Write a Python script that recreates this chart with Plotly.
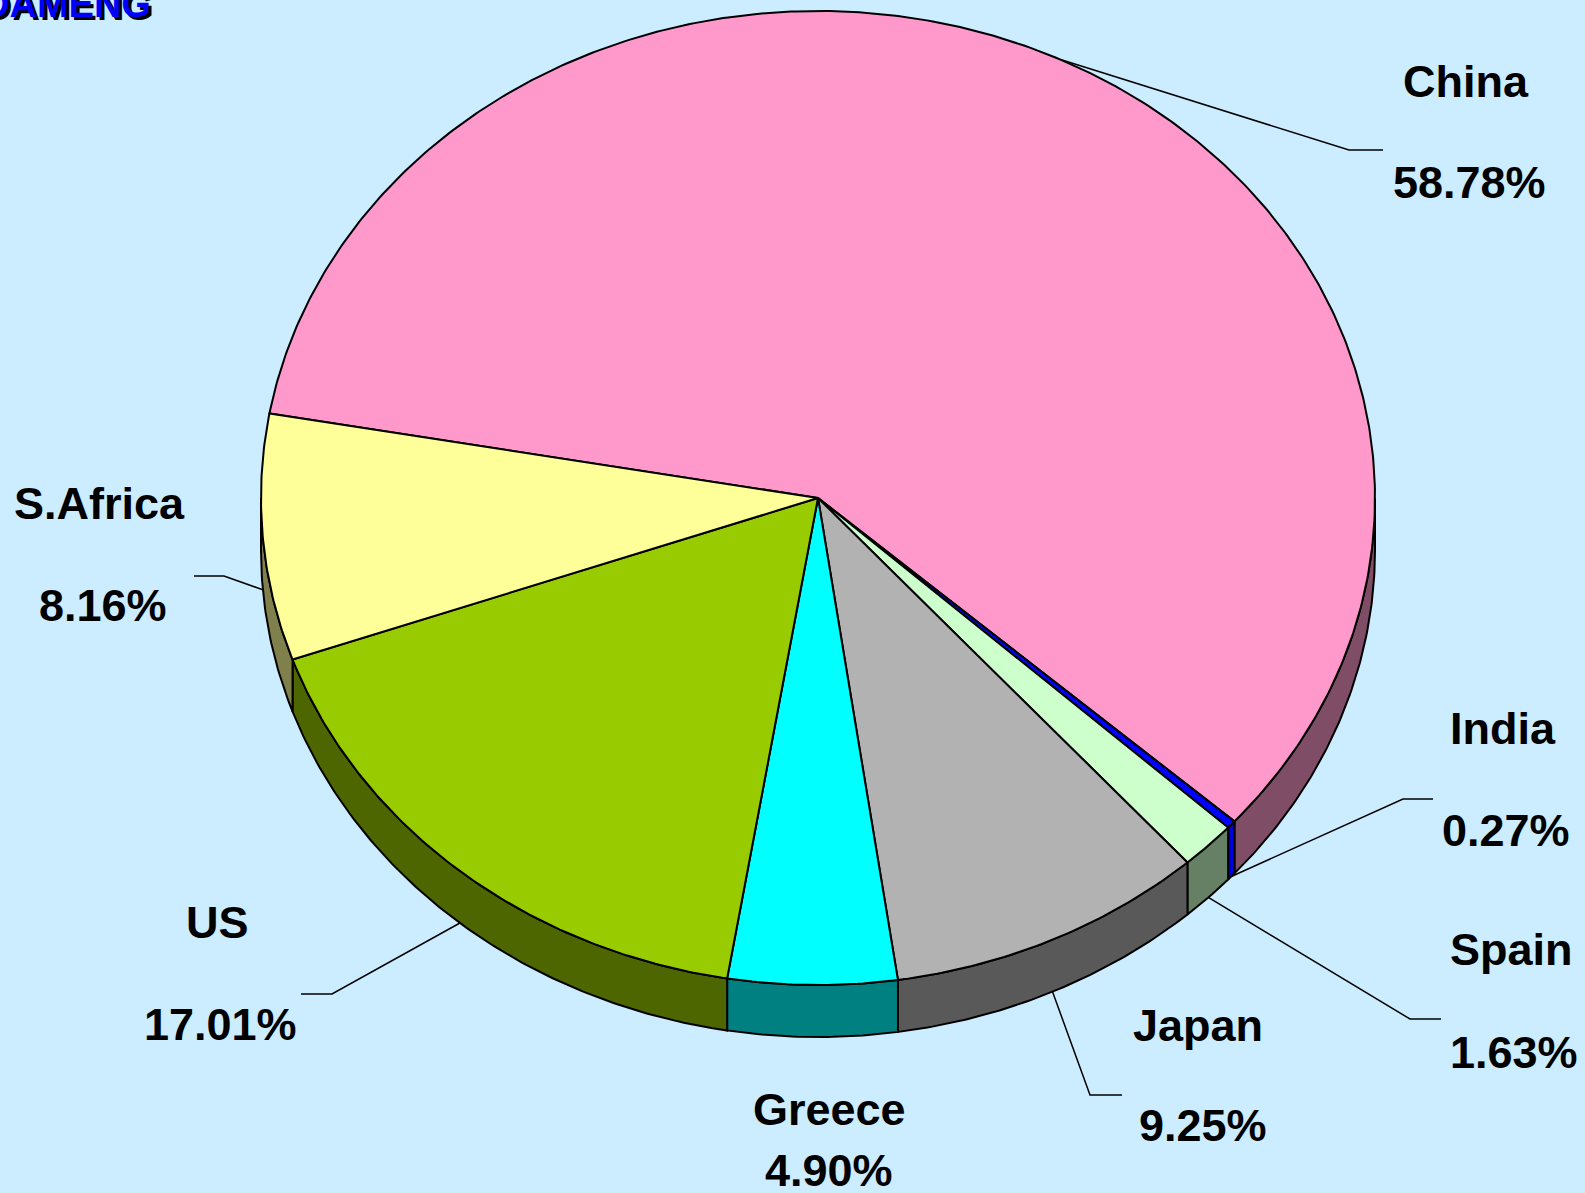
import numpy as np
import plotly.graph_objects as go

# ---------------- data ----------------
countries = ["China", "India", "Spain", "Japan", "Greece", "US", "S.Africa"]
shares = [58.78, 0.27, 1.63, 9.25, 4.90, 17.01, 8.16]
share_labels = ["58.78%", "0.27%", "1.63%", "9.25%", "4.90%", "17.01%", "8.16%"]
title_text = "DAMENG"

# ---------------- style / layout ----------------
top_colors = ["#FF99CC", "#0000FF", "#CCFFCC", "#B2B2B2", "#00FFFF", "#99CC00", "#FFFF99"]
side_colors = ["#804D66", "#0000D8", "#668066", "#595959", "#008080", "#4D6600", "#80804D"]
BG = "#CCECFF"
W, H = 1585, 1193
CX, CY = 818, 498          # pie centre (px)
RX, RY = 557, 487          # ellipse radii of the tilted top face
DEPTH = 52                 # thickness of the 3-D disc
START = 170.0              # angle of first slice edge (deg, counter-clockwise from east)
FONT = "Liberation Sans, Arial, sans-serif"
FS = 45

# label centres: (name x, name y, value x, value y)
label_pos = [
    (1466, 81, 1469, 182),
    (1503, 728, 1506, 830),
    (1511, 949, 1514, 1052),
    (1198, 1025, 1203, 1125),
    (829, 1109, 829, 1170),
    (217, 922, 220, 1024),
    (99, 503, 103, 605),
]
# leader elbows: (elbow x, elbow y, end x) or None
leaders = [
    (1349, 150, 1383),
    (1403, 799, 1433),
    (1410, 1019, 1441),
    (1090, 1095, 1122),
    None,
    (332, 994, 301),
    (224, 576, 194),
]


def ell(a_deg, dz=0.0):
    a = np.radians(a_deg)
    return CX + RX * np.cos(a), CY - RY * np.sin(a) + dz


fig = go.Figure()

# slice angle ranges (clockwise sweep)
ranges = []
acc = 0.0
for s in shares:
    a0 = START - 360.0 * acc / 100.0
    a1 = START - 360.0 * (acc + s) / 100.0
    ranges.append((a0, a1))
    acc += s

# side walls (only the front half, angles in [-180, 0])
for i, (a0, a1) in enumerate(ranges):
    hi = min(a0, 0.0)
    lo = max(a1, -180.0)
    if hi <= lo:
        continue
    n = max(4, int((hi - lo) * 2))
    angs = np.linspace(hi, lo, n)
    xt, yt = ell(angs)
    xb, yb = ell(angs[::-1], DEPTH)
    xs = np.concatenate([xt, xb, xt[:1]])
    ys = np.concatenate([yt, yb, yt[:1]])
    fig.add_trace(go.Scatter(x=xs, y=ys, mode="lines", fill="toself",
                             fillcolor=side_colors[i],
                             line=dict(color="black", width=2),
                             hoverinfo="skip", showlegend=False))

# top faces
for i, (a0, a1) in enumerate(ranges):
    n = max(4, int(abs(a0 - a1) * 2))
    angs = np.linspace(a0, a1, n)
    xa, ya = ell(angs)
    xs = np.concatenate([[CX], xa, [CX]])
    ys = np.concatenate([[CY], ya, [CY]])
    fig.add_trace(go.Scatter(x=xs, y=ys, mode="lines", fill="toself",
                             fillcolor=top_colors[i],
                             line=dict(color="black", width=2),
                             hoverinfo="text", text=f"{countries[i]}: {share_labels[i]}",
                             showlegend=False))

# leader lines
for i, (a0, a1) in enumerate(ranges):
    if leaders[i] is None:
        continue
    mid = (a0 + a1) / 2.0
    dz = DEPTH if np.sin(np.radians(mid)) < 0 else 0.0
    sx, sy = ell(mid, dz)
    ex, ey, endx = leaders[i]
    fig.add_trace(go.Scatter(x=[sx, ex, endx], y=[sy, ey, ey], mode="lines",
                             line=dict(color="black", width=1.5),
                             hoverinfo="skip", showlegend=False))

annotations = []
for i in range(len(countries)):
    nx, ny, vx, vy = label_pos[i]
    annotations.append(dict(x=nx, y=ny, xref="x", yref="y", text=f"<b>{countries[i]}</b>",
                            showarrow=False, xanchor="center", yanchor="middle",
                            font=dict(family=FONT, size=FS, color="black")))
    annotations.append(dict(x=vx, y=vy, xref="x", yref="y", text=f"<b>{share_labels[i]}</b>",
                            showarrow=False, xanchor="center", yanchor="middle",
                            font=dict(family=FONT, size=FS, color="black")))

# title with shadow
for dx, col in ((3, "black"), (0, "#0000FF")):
    annotations.append(dict(x=0, y=1, xref="paper", yref="paper", text=f"<b>{title_text}</b>",
                            showarrow=False, xanchor="left", yanchor="middle",
                            xshift=-20 + dx, yshift=-4 - dx,
                            font=dict(family=FONT, size=38, color=col)))

fig.update_layout(
    width=W, height=H,
    margin=dict(l=0, r=0, t=0, b=0),
    paper_bgcolor=BG, plot_bgcolor=BG,
    xaxis=dict(range=[0, W], visible=False, fixedrange=True),
    yaxis=dict(range=[H, 0], visible=False, fixedrange=True),
    annotations=annotations,
    showlegend=False,
)

fig.write_html("out.html", config={"displayModeBar": False},
               post_script="document.body.style.margin='0';document.body.style.overflow='hidden';")
